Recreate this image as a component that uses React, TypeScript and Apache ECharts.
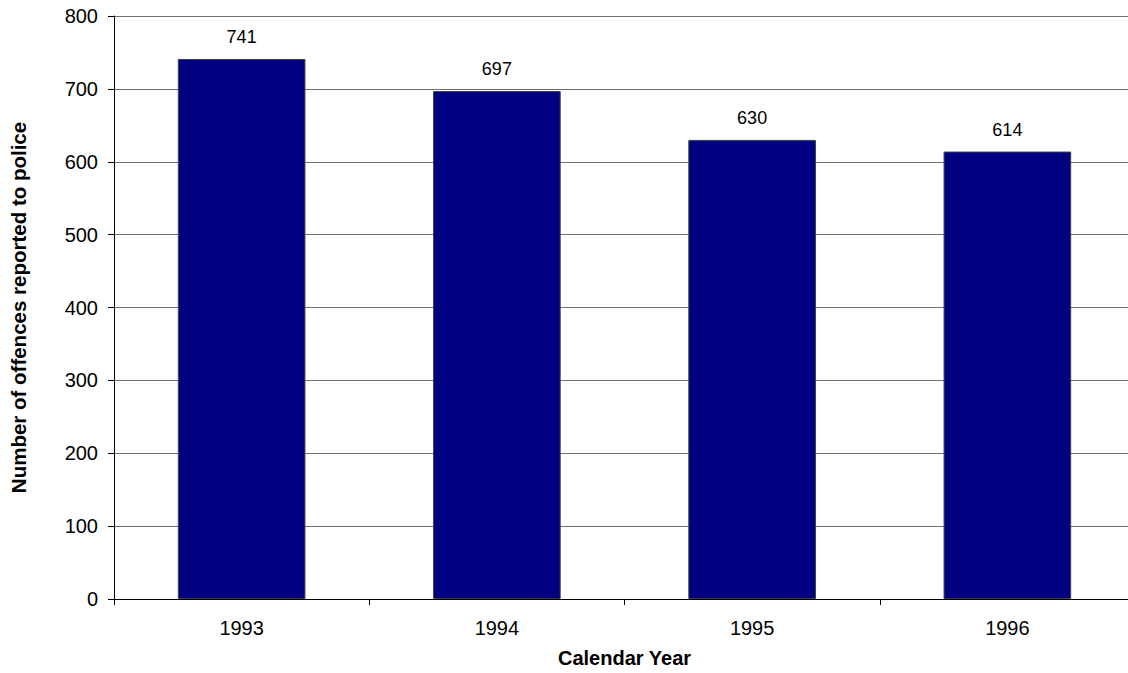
import React, { useEffect, useRef } from "react";
import * as echarts from "echarts";

const years = ["1993", "1994", "1995", "1996"];
const offences = [741, 697, 630, 614];
const yTicks = { min: 0, max: 800, interval: 100 };

const FONT = "Liberation Sans, Arial, sans-serif";

export default function App() {
  const ref = useRef<HTMLDivElement>(null);
  useEffect(() => {
    document.body.style.margin = "0";
    document.body.style.overflow = "hidden";
    const chart = echarts.init(ref.current!, null, { renderer: "svg" });
    chart.setOption({
      animation: false,
      backgroundColor: "#ffffff",
      textStyle: { fontFamily: FONT },
      grid: { left: 114, right: 7, top: 16, bottom: 73, containLabel: false },
      xAxis: {
        type: "category",
        data: years,
        axisLine: { show: true, lineStyle: { color: "#000", width: 1 } },
        axisTick: { show: true, alignWithLabel: false, length: 6, lineStyle: { color: "#000" } },
        axisLabel: { fontSize: 20, color: "#000", margin: 19, fontFamily: FONT },
        splitLine: { show: false },
        name: "Calendar Year",
        nameLocation: "middle",
        nameGap: 49,
        nameTextStyle: { fontSize: 20, fontWeight: "bold", color: "#000", fontFamily: FONT },
      },
      yAxis: {
        type: "value",
        min: yTicks.min,
        max: yTicks.max,
        interval: yTicks.interval,
        axisLine: { show: true, lineStyle: { color: "#000", width: 1 } },
        axisTick: { show: true, inside: false, length: 6, lineStyle: { color: "#000" } },
        axisLabel: { fontSize: 20, color: "#000", margin: 16, fontFamily: FONT },
        splitLine: { show: true, lineStyle: { color: "#707070", width: 1 } },
        name: "Number of offences reported to police",
        nameLocation: "middle",
        nameGap: 85,
        nameRotate: 90,
        nameTextStyle: { fontSize: 20.5, fontWeight: "bold", color: "#000", fontFamily: FONT },
      },
      series: [
        {
          type: "bar",
          data: offences,
          barWidth: "50%",
          itemStyle: { color: "#000080", borderColor: "#404040", borderWidth: 1 },
          label: {
            show: true,
            position: "top",
            distance: 13,
            fontSize: 18,
            color: "#000",
            fontFamily: FONT,
          },
        },
      ],
    });
    return () => chart.dispose();
  }, []);
  return <div ref={ref} style={{ width: 1142, height: 673 }} />;
}
